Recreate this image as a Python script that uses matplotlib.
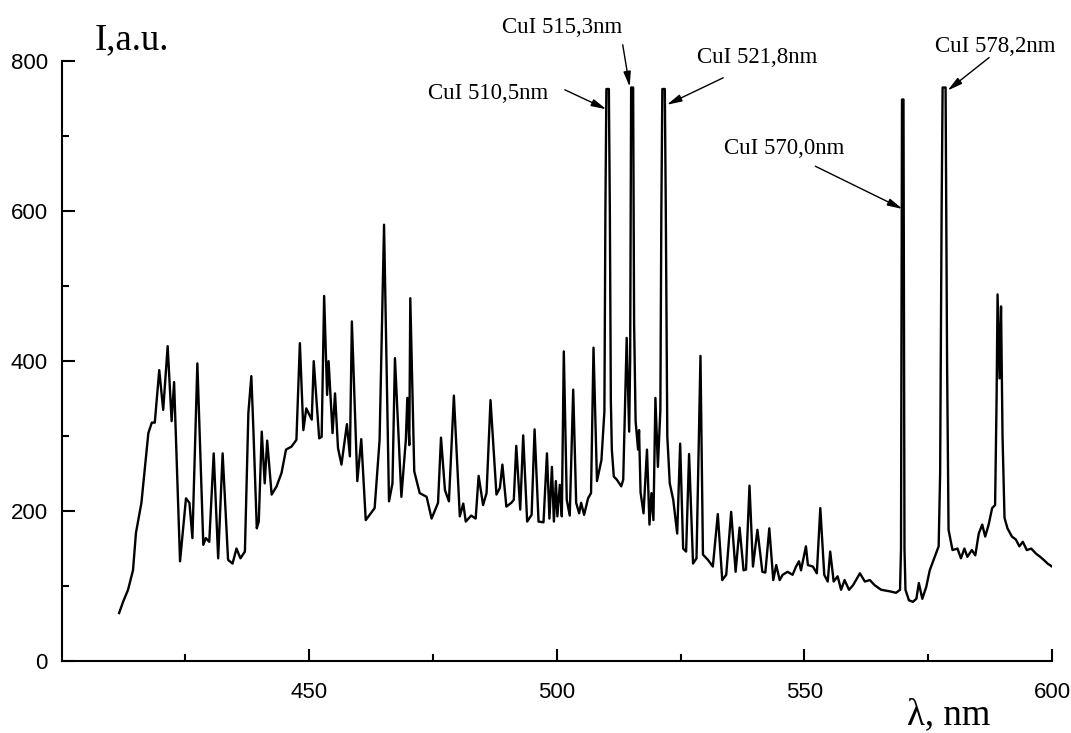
import numpy as np
import matplotlib
matplotlib.use('Agg')
import matplotlib.pyplot as plt

# spectrum (wavelength in nm, intensity in a.u.)
wl = [411.6, 412.4, 413.4, 414.4, 415.0, 416.1, 416.7, 417.5, 418.2, 418.8,
      419.7, 420.5, 421.4, 422.2, 422.7, 423.9, 425.1, 425.8, 426.4, 427.4,
      428.6, 429.1, 429.8, 430.7, 431.6, 432.5, 433.6, 434.5, 435.3, 436.1,
      437.0, 437.7, 438.3, 438.7, 439.4, 439.8, 440.4, 441.0, 441.5, 442.4,
      443.4, 444.4, 445.3, 446.4, 447.4, 448.1, 448.8, 449.4, 450.5, 450.9,
      451.3, 452.0, 452.5, 453.0, 453.6, 453.9, 454.7, 455.2, 455.8, 456.5,
      457.6, 458.2, 458.6, 459.7, 460.5, 461.4, 462.2, 463.2, 464.2, 465.1,
      466.1, 466.8, 467.3, 468.6, 469.5, 469.8, 470.2, 470.4, 471.2, 472.3,
      473.7, 474.7, 476.0, 476.6, 477.4, 478.2, 479.2, 480.4, 481.1, 481.6,
      482.7, 483.6, 484.2, 485.1, 485.8, 486.6, 487.8, 488.5, 489.0, 489.8,
      490.8, 491.3, 491.8, 492.6, 493.2, 494.0, 494.9, 495.5, 496.3, 497.3,
      498.0, 498.5, 499.0, 499.4, 499.8, 500.1, 500.6, 501.0, 501.4, 502.0,
      502.6, 503.3, 503.9, 504.5, 504.9, 505.5, 506.3, 506.9, 507.4, 508.1,
      509.0, 509.6, 509.8, 510.0, 510.5, 510.7, 510.9, 511.1, 511.5, 512.1,
      513.0, 513.4, 514.1, 514.6, 514.8, 515.0, 515.4, 515.6, 515.9, 516.4,
      516.6, 516.9, 517.5, 518.2, 518.7, 519.1, 519.5, 519.9, 520.4, 520.9,
      521.1, 521.3, 521.8, 522.0, 522.3, 522.8, 523.5, 524.3, 524.9, 525.5,
      526.1, 526.7, 527.5, 528.2, 529.0, 529.5, 530.5, 531.5, 532.5, 533.4,
      534.2, 535.2, 536.1, 536.9, 537.7, 538.2, 538.9, 539.6, 540.5, 541.5,
      542.1, 542.9, 543.7, 544.3, 545.0, 545.6, 546.6, 547.6, 548.3, 548.9,
      549.3, 550.3, 550.7, 551.7, 552.5, 553.2, 554.0, 554.7, 555.2, 555.9,
      556.7, 557.4, 558.1, 559.0, 559.8, 561.2, 562.2, 563.2, 564.2, 565.5,
      567.2, 568.5, 569.3, 569.5, 569.7, 570.0, 570.2, 570.4, 571.1, 571.9,
      572.6, 573.1, 573.8, 574.6, 575.3, 576.3, 577.1, 577.4, 577.7, 577.9,
      578.5, 578.8, 579.1, 579.9, 580.9, 581.6, 582.3, 582.9, 583.8, 584.5,
      585.2, 585.9, 586.5, 587.2, 587.9, 588.5, 588.8, 589.0, 589.4, 589.7,
      590.0, 590.4, 591.0, 591.9, 592.7, 593.4, 594.1, 594.9, 595.8, 596.8,
      597.6, 598.3, 599.1, 600.0]
intensity = [64, 79, 95, 121, 171, 211, 251, 304, 318, 318,
             388, 335, 420, 320, 372, 133, 217, 211, 164, 397,
             155, 164, 159, 277, 137, 277, 135, 130, 150, 137,
             146, 331, 380, 311, 177, 186, 306, 237, 294, 222,
             233, 251, 282, 286, 295, 424, 308, 337, 322, 400,
             362, 297, 299, 487, 355, 400, 304, 357, 284, 262,
             316, 273, 453, 240, 296, 188, 195, 204, 295, 582,
             213, 237, 404, 219, 295, 351, 288, 484, 253, 224,
             219, 190, 211, 298, 228, 213, 354, 193, 210, 186,
             194, 190, 247, 208, 224, 348, 222, 231, 262, 206,
             211, 215, 287, 202, 301, 186, 195, 309, 186, 185,
             277, 190, 259, 186, 240, 193, 235, 193, 413, 215,
             194, 362, 211, 197, 211, 195, 217, 224, 418, 240,
             268, 333, 600, 763, 763, 600, 348, 282, 246, 242,
             233, 242, 431, 306, 400, 765, 765, 450, 320, 282,
             308, 225, 197, 282, 182, 224, 188, 351, 259, 335,
             600, 763, 763, 600, 300, 237, 215, 170, 290, 150,
             146, 276, 130, 137, 407, 142, 135, 126, 196, 108,
             115, 199, 119, 178, 121, 122, 234, 126, 175, 119,
             118, 177, 108, 128, 108, 115, 119, 115, 126, 133,
             121, 153, 128, 126, 117, 204, 115, 106, 146, 106,
             113, 95, 108, 95, 101, 117, 106, 108, 101, 95,
             93, 91, 95, 150, 749, 749, 150, 95, 81, 79,
             83, 104, 83, 99, 121, 139, 153, 250, 600, 765,
             765, 400, 175, 148, 150, 137, 150, 139, 148, 141,
             170, 182, 166, 182, 204, 208, 350, 489, 377, 473,
             300, 191, 177, 166, 162, 153, 159, 148, 150, 143,
             139, 135, 130, 126]

# labelled Cu I lines: text, text position (left, baseline), arrow tail, arrow tip
line_labels = ['CuI 510,5nm', 'CuI 515,3nm', 'CuI 521,8nm', 'CuI 570,0nm', 'CuI 578,2nm']
label_pos = [(473.9, 750), (488.9, 838), (528.2, 798), (533.8, 676), (576.3, 813)]
arrow_tail = [(501.6, 762), (513.3, 822), (533.6, 778), (552.2, 660), (587.3, 805)]
arrow_tip = [(510.0, 736), (514.7, 766), (522.2, 742), (569.8, 603), (578.9, 761)]

serif = ['Liberation Serif', 'DejaVu Serif']

fig = plt.figure(figsize=(10.71, 7.33), dpi=100)
ax = fig.add_axes([0.0576, 0.0982, 0.9247, 0.8182])

ax.plot(wl, intensity, color='black', lw=1.7, solid_joinstyle='round')

ax.set_xlim(400, 600)
ax.set_ylim(0, 800)
ax.set_xticks([450, 500, 550, 600])
ax.set_xticks([425, 475, 525, 575], minor=True)
ax.set_yticks([0, 200, 400, 600, 800])
ax.set_yticks([100, 300, 500, 700], minor=True)

for s in ['top', 'right']:
    ax.spines[s].set_visible(False)
for s in ['left', 'bottom']:
    ax.spines[s].set_linewidth(1.5)

ax.tick_params(which='both', direction='in', width=1.5)
ax.tick_params(which='major', length=9)
ax.tick_params(which='minor', length=5)
ax.tick_params(axis='y', which='major', pad=10)
ax.tick_params(axis='x', which='major', pad=15)
for lab in ax.get_xticklabels() + ax.get_yticklabels():
    lab.set_fontfamily(['Liberation Sans', 'DejaVu Sans'])
    lab.set_fontsize(16)

for txt, pos, tail, tip in zip(line_labels, label_pos, arrow_tail, arrow_tip):
    ax.text(pos[0], pos[1], txt, family=serif, fontsize=16.5, ha='left', va='baseline')
    ax.annotate('', xy=tip, xytext=tail,
                arrowprops=dict(arrowstyle='-|>,head_length=0.9,head_width=0.22',
                                color='black', lw=1.0, shrinkA=0, shrinkB=0))

fig.text(95 / 1071, 1 - 49 / 733, 'I,a.u.', family=serif, fontsize=26.5, va='baseline')
fig.text(907 / 1071, 1 - 724 / 733, 'λ, nm', family=serif, fontsize=26.5, va='baseline')

fig.savefig('out.png', dpi=100)
